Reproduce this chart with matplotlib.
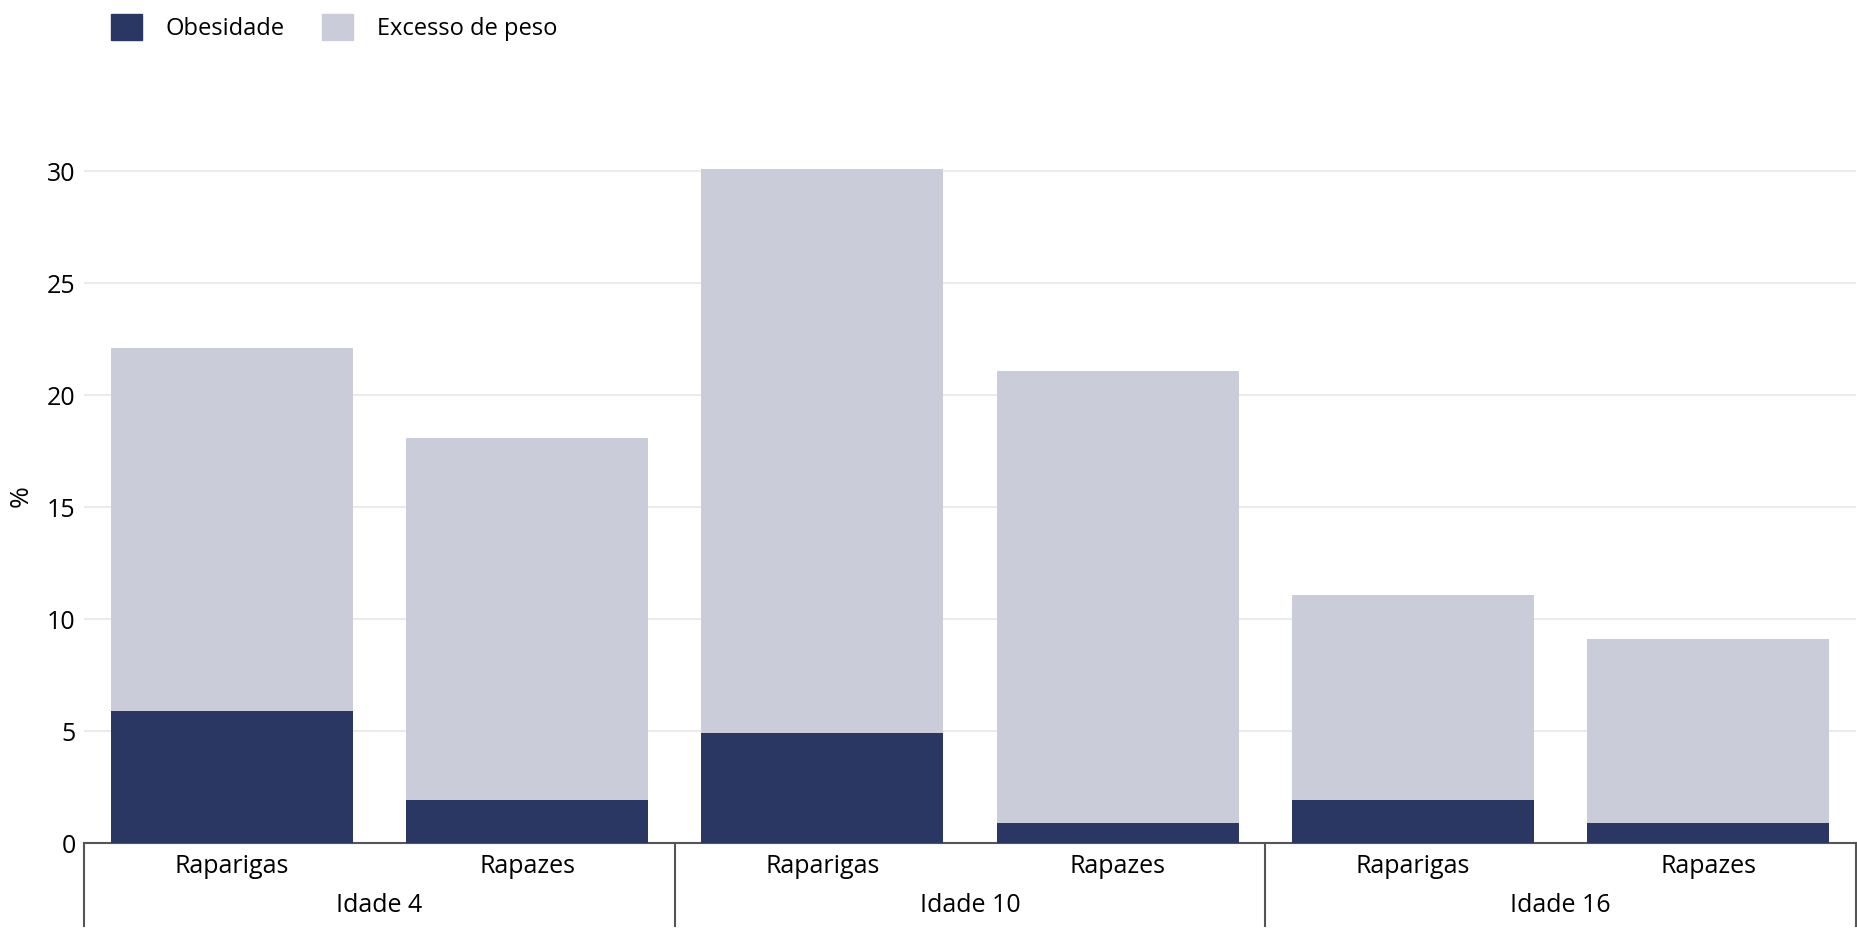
import numpy as np
import matplotlib.pyplot as plt
from matplotlib.patches import Patch

plt.rcParams['font.family'] = ['Open Sans', 'DejaVu Sans']

groups = ["Idade 4", "Idade 10", "Idade 16"]
sexes = ["Raparigas", "Rapazes"]
excesso = [22.1, 18.1, 30.1, 21.1, 11.1, 9.1]
obesidade = [5.9, 1.9, 4.9, 0.9, 1.9, 0.9]

dark = "#2b3763"
light = "#cacdd9"
axis_col = "#555555"

fig = plt.figure(figsize=(18.57, 9.3), dpi=100)
ax = fig.add_axes([84 / 1857, 87 / 930, 1772 / 1857, 694 / 930])

x = np.arange(len(excesso))
ax.bar(x, excesso, width=0.82, color=light, zorder=3)
ax.bar(x, obesidade, width=0.82, color=dark, zorder=4)

ax.set_xlim(-0.5, len(excesso) - 0.5)
ax.set_ylim(0, 31)
ax.set_yticks([0, 5, 10, 15, 20, 25, 30])
ax.yaxis.grid(True, color="#ebebeb", linewidth=1.5, zorder=0)
ax.tick_params(axis='y', length=0, labelsize=18, pad=6)
ax.tick_params(axis='x', length=0, labelsize=18, pad=8)
ax.set_xticks(x)
ax.set_xticklabels(sexes * len(groups))
for s in ["top", "right", "left"]:
    ax.spines[s].set_visible(False)
ax.spines["bottom"].set_color(axis_col)
ax.spines["bottom"].set_linewidth(1.5)
ax.spines["bottom"].set_zorder(2)
ax.set_ylabel("%", fontsize=19, labelpad=10)

# group labels and separators
for i, g in enumerate(groups):
    ax.text(2 * i + 0.5, -0.09, g, transform=ax.get_xaxis_transform(),
            ha="center", va="center", fontsize=18)
for b in np.arange(-0.5, len(excesso), 2):
    ax.plot([b, b], [0, -0.12], transform=ax.get_xaxis_transform(),
            color=axis_col, linewidth=1.5, clip_on=False)

handles = [Patch(color=dark, label="Obesidade"), Patch(color=light, label="Excesso de peso")]
fig.legend(handles=handles, loc="upper left", bbox_to_anchor=(90 / 1857, 1.008),
           ncol=2, frameon=False, fontsize=17, handlelength=1.3, handleheight=1.3,
           handletextpad=1.0, columnspacing=1.6)

fig.savefig("out.png", dpi=100)
